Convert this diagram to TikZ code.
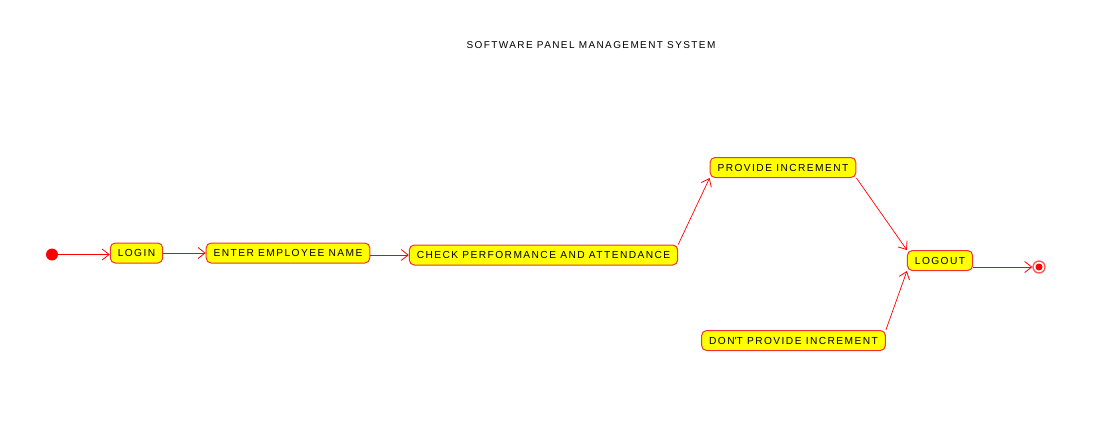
\documentclass[tikz,border=0pt]{standalone}
\usepackage{fontspec}
\setmainfont{Liberation Sans}[LetterSpace=14]
\usetikzlibrary{arrows.meta}
\definecolor{boxred}{RGB}{240,50,50}
\definecolor{boxyellow}{RGB}{255,255,0}
\tikzset{
  statebox/.style={draw=boxred, line width=1pt, fill=boxyellow, rounded corners=5pt,
    minimum height=20pt, inner xsep=7.5pt, inner ysep=0pt, font=\fontsize{10.2}{12}\selectfont, text=black},
  flow/.style={draw=red, line width=0.7pt, -{Straight Barb[length=7pt,width=11pt,line width=0.8pt]}},
}
\begin{document}
\begin{tikzpicture}[x=1pt,y=-1pt]
\useasboundingbox (0,0) rectangle (1100,432);
\node[font=\fontsize{10}{12}\selectfont] (title) at (591,45) {SOFTWARE PANEL MANAGEMENT SYSTEM};
\node[circle, fill=red, inner sep=0pt, minimum size=12pt] (start) at (52,254.5) {};
\node[statebox] (login) at (136.5,253) {LOGIN};
\node[statebox] (enter) at (288,253) {ENTER EMPLOYEE NAME};
\node[statebox] (check) at (543.5,255) {CHECK PERFORMANCE AND ATTENDANCE};
\node[statebox] (prov) at (783,167.5) {PROVIDE INCREMENT};
\node[statebox] (logout) at (940,260.5) {LOGOUT};
\node[statebox] (dont) at (793.5,340.5) {DON\textquotesingle T PROVIDE INCREMENT};
\node[circle, draw=red!65, line width=1.4pt, fill=white, inner sep=0pt, minimum size=12pt] (fin) at (1039,267) {};
\node[circle, fill=red, inner sep=0pt, minimum size=7pt] (finin) at (fin) {};
\draw[flow] (start) -- (login.west |- start);
\draw[flow] (login) -- (enter);
\draw[flow] (enter.east |- check.west) -- (check.west);
\draw[flow] (check.north east) -- (prov.south west);
\draw[flow] (prov.south east) -- (logout.north west);
\draw[flow] (dont.north east) -- (logout.south west);
\draw[flow] (logout.east |- fin.west) -- (fin.west);
\end{tikzpicture}
\end{document}
